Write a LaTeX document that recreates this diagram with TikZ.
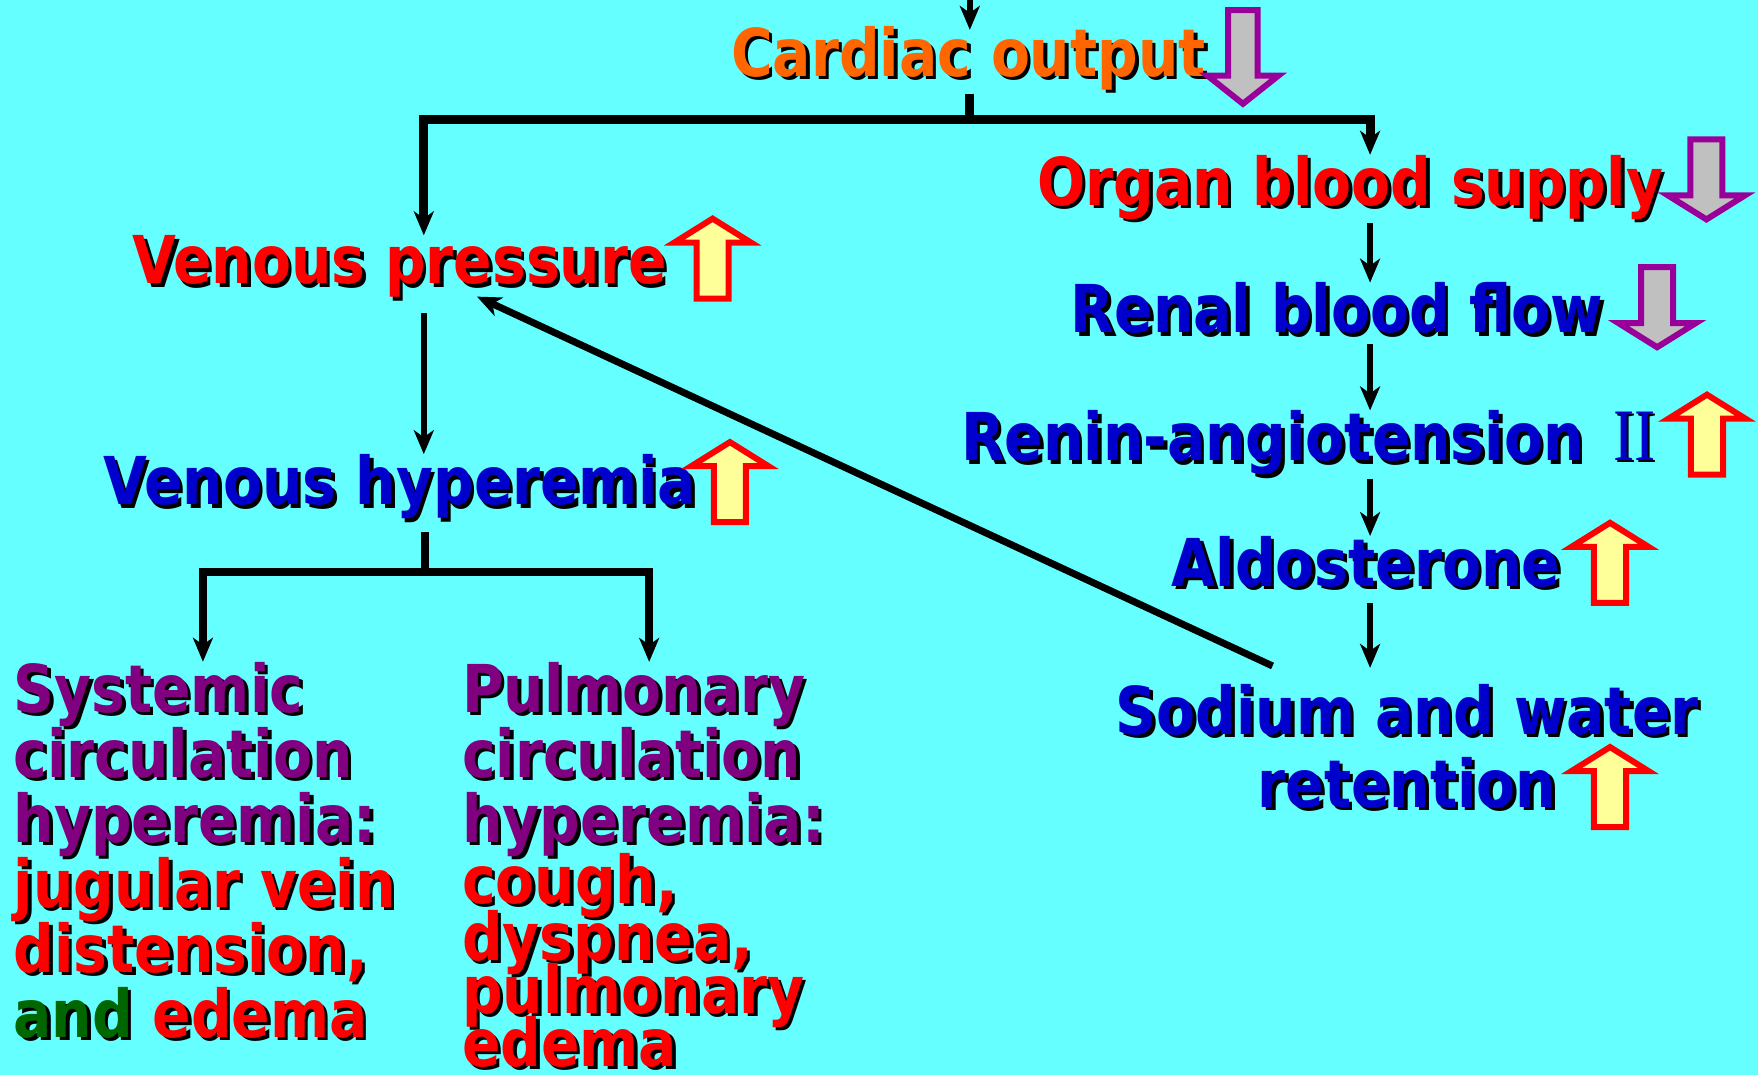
\documentclass[tikz,border=0pt]{standalone}
\usepackage{fontspec}
\usepackage{tikz}
\usepackage{xcolor}
\usetikzlibrary{arrows.meta}
\setmainfont{DejaVu Sans}[FakeStretch=0.86]
\newfontfamily\numfont{Liberation Serif}[FakeStretch=0.86]

\definecolor{bgcyan}{HTML}{66FFFF}
\definecolor{txtorange}{HTML}{FF6600}
\definecolor{txtred}{HTML}{FF0000}
\definecolor{txtblue}{HTML}{0000CC}
\definecolor{txtpurple}{HTML}{800080}
\definecolor{txtgreen}{HTML}{006600}
\definecolor{upfill}{HTML}{FFFF99}
\definecolor{downdraw}{HTML}{990099}
\definecolor{downfill}{HTML}{C0C0C0}

\newcommand{\shtxt}[3][3.5pt]{\makebox[0pt][l]{\hspace*{#1}\raisebox{-#1}{\color{black}#3}}\textcolor{#2}{#3}}

\begin{document}
\begin{tikzpicture} %Heart failure chain
      [
      x=1.1212pt, y=-1.1212pt,
      box/.style={anchor=base west, inner sep=0pt, font=\bfseries\fontsize{66}{65}\selectfont\setlength{\lineskiplimit}{-100pt}},
      arr/.style={-{Stealth[length=24pt,width=20pt,inset=7pt]}},
      flow/.style={line width=5.5pt, arr},
      topsplit/.style={line width=9pt},
      lowsplit/.style={line width=7.5pt},
      fback/.style={line width=7pt, arr},
      uparr/.pic={\draw[txtred, fill=upfill, line width=6pt] (0,-35.7) -- (34.3,-14.3) -- (14.3,-14.3) -- (14.3,35.7) -- (-14.3,35.7) -- (-14.3,-14.3) -- (-34.3,-14.3) -- cycle;},
      downarr/.pic={\draw[downdraw, fill=downfill, line width=6pt] (0,35.7) -- (34.3,14.3) -- (14.3,14.3) -- (14.3,-35.7) -- (-14.3,-35.7) -- (-14.3,14.3) -- (-34.3,14.3) -- cycle;}
      ]
      \useasboundingbox (0,0) rectangle (1568,959);
      \fill[bgcyan] (0,0) rectangle (1568,959);

      \node[box] (cardiac) at (652,68) {\shtxt{txtorange}{Cardiac output}};
      \node[box] (organ) at (925,183) {\shtxt{txtred}{Organ blood supply}};
      \node[box] (venpress) at (118,253) {\shtxt{txtred}{Venous pressure}};
      \node[box] (renal) at (955,297) {\shtxt{txtblue}{Renal blood flow}};
      \node[box] (renin) at (857,411) {\shtxt{txtblue}{Renin-angiotension}\hspace{30pt}{\numfont\mdseries\fontsize{74}{74}\selectfont\shtxt[2pt]{txtblue}{II}}};
      \node[box] (venhyp) at (92,450) {\shtxt{txtblue}{Venous hyperemia}};
      \node[box] (aldo) at (1045,523) {\shtxt{txtblue}{Aldosterone}};
      \node[box, anchor=base, align=center] (sodium) at (1255,720) {\shtxt{txtblue}{Sodium and water}\\[8pt] \shtxt{txtblue}{retention}};
      \node[box, align=left] (systemic) at (12,925) {\shtxt{txtpurple}{Systemic}\\
        \shtxt{txtpurple}{circulation}\\
        \shtxt{txtpurple}{hyperemia:}\\
        \shtxt{txtred}{jugular vein}\\
        \shtxt{txtred}{distension,}\\
        \shtxt{txtgreen}{and} \shtxt{txtred}{edema}};
      \node[box, align=left] (pulm) at (412,951) {\shtxt{txtpurple}{Pulmonary}\\
        \shtxt{txtpurple}{circulation}\\
        \shtxt{txtpurple}{hyperemia:}\\[-4pt]
        \shtxt{txtred}{cough,}\\[-8pt]
        \shtxt{txtred}{dyspnea,}\\[-12pt]
        \shtxt{txtred}{pulmonary}\\[-12pt]
        \shtxt{txtred}{edema}};

      \pic[xscale=0.92, yscale=1.17] at (1108.6,50.8) {downarr};
      \pic at (1522,160) {downarr};
      \pic at (1478,274) {downarr};
      \pic at (1522.5,387.7) {uparr};
      \pic at (635.6,230.7) {uparr};
      \pic at (651,430) {uparr};
      \pic at (1436,502) {uparr};
      \pic at (1436,702) {uparr};

      \coordinate (topin) at (865,0);
      \coordinate (split) at (865,107);
      \coordinate (tl) at (378,107);
      \coordinate (tr) at (1222,107);
      \coordinate (lsplit) at (379,510);
      \coordinate (ll) at (181,510);
      \coordinate (lr) at (579,510);

      \draw[flow, shorten >=-4pt] (topin) -- (topin |- cardiac.north);
      \begin{scope}[topsplit]
        \draw (cardiac.south -| split) -- (split);
        \draw[arr] (split) -| (venpress.north -| tl);
        \draw[arr] (split) -| (organ.north -| tr);
      \end{scope}
      \begin{scope}[lowsplit]
        \draw[shorten <=10pt] (venhyp.south -| lsplit) -- (lsplit);
        \draw[arr] (lsplit) -| (systemic.north -| ll);
        \draw[arr] (lsplit) -| (pulm.north -| lr);
      \end{scope}
      \draw[flow, shorten <=12pt] (venpress.south -| tl) -- (venhyp.north -| tl);
      \draw[flow] (organ.south -| tr) -- (renal.north -| tr);
      \draw[flow, shorten <=6pt] (renal.south -| tr) -- (renin.north -| tr);
      \draw[flow] (renin.south -| tr) -- (aldo.north -| tr);
      \draw[flow, shorten <=12pt, shorten >=16pt] (aldo.south -| tr) -- (sodium.north -| tr);
      \draw[fback] ([shift={(-120,-16)}]sodium.north) -- ([shift={(69,-4)}]venpress.south);
\end{tikzpicture}
\end{document}
